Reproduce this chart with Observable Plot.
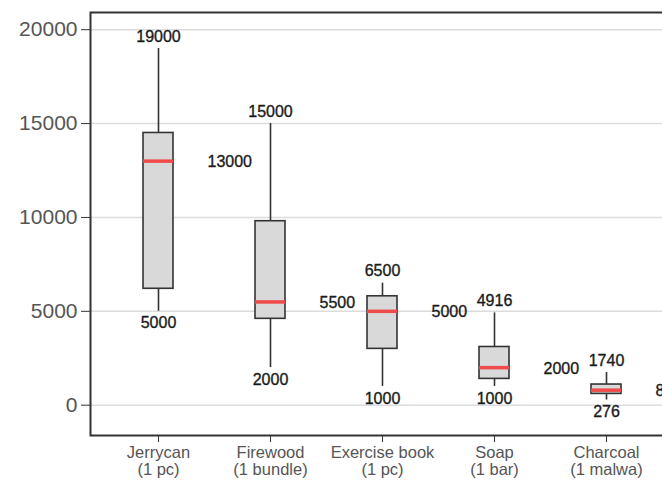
<!DOCTYPE html>
<html><head><meta charset="utf-8">
<script src="https://cdn.jsdelivr.net/npm/d3@7"></script>
<script src="https://cdn.jsdelivr.net/npm/@observablehq/plot@0.6"></script>
<style>html,body{margin:0;padding:0;background:#fff;overflow:hidden;width:662px;height:480px}</style>
</head><body><div id="chart"></div>
<script>
const items = ["Jerrycan", "Firewood", "Exercise book", "Soap", "Charcoal"];
const units = ["(1 pc)", "(1 bundle)", "(1 pc)", "(1 bar)", "(1 malwa)"];
const mins = [5000, 2000, 1000, 1000, 276];
const q1s = [6200, 4600, 3000, 1400, 600];
const medians = [13000, 5500, 5000, 2000, 800];
const q3s = [14500, 9800, 5800, 3100, 1100];
const maxs = [19000, 15000, 6500, 4916, 1740];
const yTicks = [0, 5000, 10000, 15000, 20000];

const data = items.map((item, i) => ({item, unit: units[i], min: mins[i], q1: q1s[i], median: medians[i], q3: q3s[i], max: maxs[i]}));
const labelFont = {fontSize: 16, fill: "#1a1a1a", stroke: "#1a1a1a", strokeWidth: 0.35, fontFamily: "Liberation Sans, Arial, sans-serif"};

const plot = Plot.plot({
  width: 700, height: 480,
  marginLeft: 90, marginRight: 10, marginTop: 12, marginBottom: 45,
  style: {background: "#fff", maxWidth: "none", fontFamily: "Liberation Sans, Arial, sans-serif"},
  x: {type: "band", domain: items, range: [142, 621.2], paddingInner: 0.733, paddingOuter: 0, label: null},
  y: {domain: [-1615, 20917], label: null},
  marks: [
    Plot.ruleY(yTicks, {stroke: "#dcdcdc", strokeWidth: 1.5}),
    Plot.ruleX(data, {x: "item", y1: "min", y2: "max", stroke: "#333", strokeWidth: 1.6}),
    Plot.barY(data, {x: "item", y1: "q1", y2: "q3", fill: "#d9d9d9", stroke: "#333", strokeWidth: 1.6}),
    Plot.tickY(data, {x: "item", y: "median", stroke: "#f04a4a", strokeWidth: 3.5}),
    Plot.frame({stroke: "#333", strokeWidth: 2}),
    Plot.text(data, {x: "item", y: "max", text: d => String(d.max), dy: -12, ...labelFont}),
    Plot.text(data, {x: "item", y: "min", text: d => String(d.min), dy: 12, ...labelFont}),
    Plot.text(data, {x: "item", y: "median", text: d => String(d.median), dx: 49, dy: 1, textAnchor: "start", ...labelFont}),
    Plot.axisY({ticks: yTicks, tickSize: 9, tickFormat: () => "", stroke: "#333", label: null}),
    Plot.axisY({ticks: yTicks, tickSize: 0, tickPadding: 13, fontSize: 21, fill: "#555", tickFormat: d => String(d), label: null}),
    Plot.axisX({tickSize: 7, tickPadding: 3, stroke: "#333", fill: "#555", fontSize: 16.5, lineHeight: 1.05,
      tickFormat: d => d + "\n" + units[items.indexOf(d)], label: null})
  ]
});
document.getElementById("chart").appendChild(plot);
</script>
</body></html>
